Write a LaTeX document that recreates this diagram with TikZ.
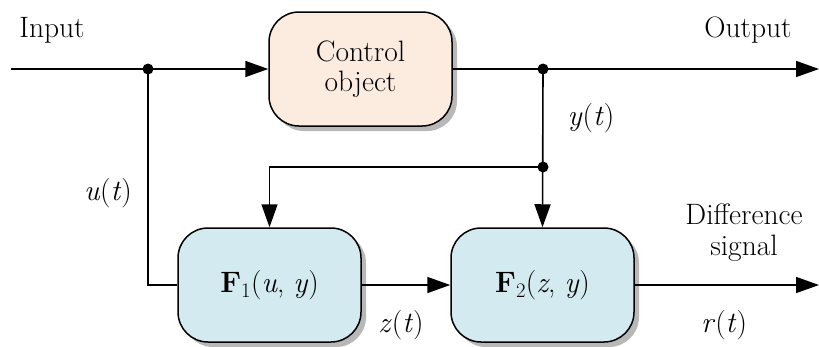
\documentclass[tikz,border=0pt]{standalone}
\usepackage{fontspec}
\setmainfont{Latin Modern Roman}
\usetikzlibrary{arrows.meta,shadows}
\definecolor{peach}{RGB}{252,236,224}
\definecolor{paleblue}{RGB}{211,234,240}
\tikzset{
  lbl/.style={font=\fontsize{29.5}{31}\selectfont, inner sep=0pt},
  block/.style={draw, line width=1.5pt, rounded corners=30pt,
    minimum width=183pt, minimum height=114pt, align=center,
    font=\fontsize{29.5}{32}\selectfont,
    drop shadow={shadow xshift=5pt, shadow yshift=-5pt, fill=black!28, opacity=1}},
  wire/.style={line width=1.6pt},
  arr/.style={wire, -{Triangle[length=23pt,width=16pt]}},
  dot/.style={circle, fill=black, inner sep=0pt, minimum size=11pt}
}
\begin{document}
\begin{tikzpicture}[x=1pt,y=-1pt]
\useasboundingbox (0,0) rectangle (819,346);

% blocks
\node[block, fill=peach] (ctrl) at (360.5,69) {Control\\[-2pt]object};
\node[block, fill=paleblue] (f1) at (269.5,285) {\textbf{F}\textsubscript{1}(\textit{u}, \textit{y})};
\node[block, fill=paleblue] (f2) at (542.5,285) {\textbf{F}\textsubscript{2}(\textit{z}, \textit{y})};

% terminals and branch points
\coordinate (in) at (11,69);
\coordinate (out) at (819,69);
\coordinate (rout) at (819,285);
\node[dot] (jin) at (148,69) {};
\node[dot] (jout) at (543,69) {};
\node[dot] (jy) at (543,167) {};

% connectors
\draw[arr] (in) -- (ctrl.west);
\draw[arr] (ctrl.east) -- (out);
\draw[wire] (jin.center) |- (f1.west);
\draw[arr] (jout.center) -- (f2.north);
\draw[arr] (jy.center) -| (f1.north);
\draw[arr] (f1.east) -- (f2.west);
\draw[arr] (f2.east) -- (rout);

% labels
\node[lbl] (tin) at (52,30) {Input};
\node[lbl] (tout) at (748,30) {Output};
\node[lbl] (ty) at (591,118) {\textit{y}(\textit{t})};
\node[lbl] (tu) at (108,193) {\textit{u}(\textit{t})};
\node[lbl, align=center] (tdiff) at (744,233) {Difference\\signal};
\node[lbl] (tz) at (401,325) {\textit{z}(\textit{t})};
\node[lbl] (tr) at (724,325) {\textit{r}(\textit{t})};
\end{tikzpicture}
\end{document}
